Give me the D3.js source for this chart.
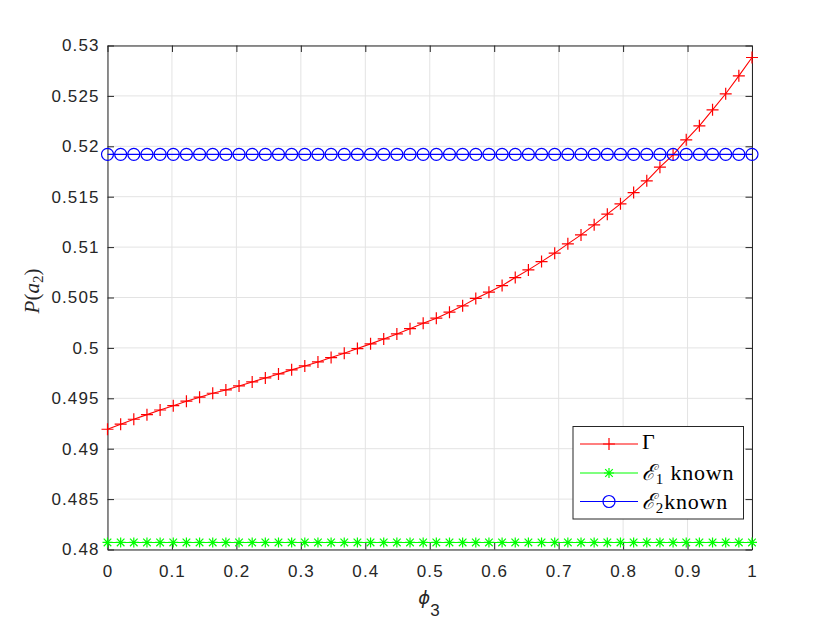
<!DOCTYPE html>
<html><head><meta charset="utf-8">
<script src="https://cdn.jsdelivr.net/npm/d3@7"></script>
<style>body{margin:0;background:#fff}svg{display:block}</style>
</head><body>
<svg id="c" width="830" height="623"></svg>
<script>
// ---- data ----
const nPoints = 50; // phi3 sampled with 50 equally spaced points from 0 to 1
const phi3 = d3.range(nPoints).map(i => i / (nPoints - 1));
const gammaValues = [
 0.49193,0.49243,0.49292,0.49338,0.49384,0.49427,0.49471,0.49511,0.49550,0.49583,
 0.49623,0.49662,0.49702,0.49742,0.49782,0.49821,0.49861,0.49904,0.49947,0.49993,
 0.50040,0.50089,0.50139,0.50191,0.50245,0.50295,0.50354,0.50417,0.50491,0.50553,
 0.50618,0.50698,0.50774,0.50856,0.50940,0.51032,0.51121,0.51221,0.51327,0.51429,
 0.51541,0.51657,0.51793,0.51915,0.52064,0.52203,0.52362,0.52521,0.52699,0.52881];
const e1Value = 0.4807;
const e2Value = 0.5192;
const e1Values = phi3.map(() => e1Value);
const e2Values = phi3.map(() => e2Value);
const xTicks = [0,0.1,0.2,0.3,0.4,0.5,0.6,0.7,0.8,0.9,1];
const xTickLabels = ["0","0.1","0.2","0.3","0.4","0.5","0.6","0.7","0.8","0.9","1"];
const yTicks = [0.48,0.485,0.49,0.495,0.5,0.505,0.51,0.515,0.52,0.525,0.53];
const yTickLabels = ["0.48","0.485","0.49","0.495","0.5","0.505","0.51","0.515","0.52","0.525","0.53"];

// ---- layout ----
const L = 107.5, R = 752, T = 45.5, B = 549.5;
const svg = d3.select("#c");
const x = d3.scaleLinear().domain([0,1]).range([L,R]);
const y = d3.scaleLinear().domain([0.48,0.53]).range([B,T]);
const axisCol = "#262626", gridCol = "#e3e3e3";
const sans = "'Liberation Sans', Arial, Helvetica, sans-serif";
const serif = "'Liberation Serif', 'DejaVu Serif', serif";

// grid
const g = svg.append("g");
g.selectAll(".vx").data(xTicks).join("line")
  .attr("x1", d=>x(d)).attr("x2", d=>x(d)).attr("y1", T).attr("y2", B)
  .attr("stroke", gridCol).attr("stroke-width", 1);
g.selectAll(".hy").data(yTicks).join("line")
  .attr("y1", d=>y(d)).attr("y2", d=>y(d)).attr("x1", L).attr("x2", R)
  .attr("stroke", gridCol).attr("stroke-width", 1);

// axes (MATLAB style: inward ticks, boxed)
const tl = 6.5;
const axB = d3.axisBottom(x).tickValues(xTicks).tickFormat((d,i)=>xTickLabels[i]).tickSizeInner(-tl).tickSizeOuter(0).tickPadding(15);
const axT = d3.axisTop(x).tickValues(xTicks).tickFormat("").tickSizeInner(-tl).tickSizeOuter(0);
const axL = d3.axisLeft(y).tickValues(yTicks).tickFormat((d,i)=>yTickLabels[i]).tickSizeInner(-tl).tickSizeOuter(0).tickPadding(8);
const axR = d3.axisRight(y).tickValues(yTicks).tickFormat("").tickSizeInner(-tl).tickSizeOuter(0);
function style(sel){
  sel.attr("font-size", null).attr("font-family", null);
  sel.selectAll("path").attr("stroke", axisCol);
  sel.selectAll("line").attr("stroke", axisCol);
  sel.selectAll("text").attr("fill", axisCol)
    .attr("font-family", sans).attr("font-size", 17).attr("letter-spacing", 1.1);
}
svg.append("g").attr("transform",`translate(0,${B})`).call(axB).call(style);
svg.append("g").attr("transform",`translate(0,${T})`).call(axT).call(style);
svg.append("g").attr("transform",`translate(${L},0)`).call(axL).call(style);
svg.append("g").attr("transform",`translate(${R},0)`).call(axR).call(style);

// series
const series = [
  {name:"gamma", vals:gammaValues, color:"#ff0000", marker:"plus"},
  {name:"e1", vals:e1Values, color:"#00ff00", marker:"star"},
  {name:"e2", vals:e2Values, color:"#0000ff", marker:"circle"}
];
const line = d3.line().x((d,i)=>x(phi3[i])).y(d=>y(d));
function drawMarker(sel, type, color){
  if(type==="plus"){
    sel.append("path").attr("d","M-6,0H6M0,-6V6").attr("stroke",color).attr("stroke-width",1.2).attr("fill","none");
  } else if(type==="star"){
    sel.append("path").attr("d","M-5,0H5M0,-5V5M-3.8,-3.8L3.8,3.8M-3.8,3.8L3.8,-3.8").attr("stroke",color).attr("stroke-width",1.2).attr("fill","none");
  } else {
    sel.append("circle").attr("r",6).attr("stroke",color).attr("stroke-width",1.2).attr("fill","none");
  }
}
const plot = svg.append("g");
series.forEach(s=>{
  plot.append("path").datum(s.vals).attr("d", line).attr("fill","none").attr("stroke", s.color).attr("stroke-width",1.1);
  plot.selectAll(null).data(s.vals).join("g")
    .attr("transform",(d,i)=>`translate(${x(phi3[i])},${y(d)})`)
    .each(function(){ drawMarker(d3.select(this), s.marker, s.color); });
});

// axis labels
svg.append("text").attr("x", 429).attr("y", 604)
  .attr("text-anchor","middle").attr("fill", axisCol)
  .html(`<tspan style="font-family:'DejaVu Sans',sans-serif;font-style:italic;font-size:18px">ϕ</tspan><tspan dy="12" style="font-family:${sans};font-size:17px">3</tspan>`);
svg.append("text").attr("transform",`translate(39,291) rotate(-90)`)
  .attr("text-anchor","middle").attr("fill", axisCol)
  .html(`<tspan style="font-family:${serif};font-style:italic;font-size:21px">P</tspan><tspan style="font-family:${serif};font-size:21px">(</tspan><tspan style="font-family:${serif};font-style:italic;font-size:21px">a</tspan><tspan dy="4" style="font-family:${serif};font-size:15px">2</tspan><tspan dy="-4" style="font-family:${serif};font-size:21px">)</tspan>`);

// legend
const lg = svg.append("g");
lg.append("rect").attr("x",573).attr("y",426.5).attr("width",170.5).attr("height",92.5)
  .attr("fill","#fff").attr("stroke","#262626").attr("stroke-width",1);
const legendItems = [
  {s:series[0], y:444, base:448.5, html:`<tspan>Γ</tspan>`},
  {s:series[1], y:473, base:479.5, html:`<tspan font-style="italic">ℰ</tspan><tspan dy="4" font-size="15">1</tspan><tspan dy="-4"> known</tspan>`},
  {s:series[2], y:501.5, base:508.5, html:`<tspan font-style="italic">ℰ</tspan><tspan dy="4" font-size="15">2</tspan><tspan dy="-4">known</tspan>`}
];
legendItems.forEach(it=>{
  lg.append("line").attr("x1",580).attr("x2",638).attr("y1",it.y).attr("y2",it.y).attr("stroke",it.s.color).attr("stroke-width",1.1);
  const m = lg.append("g").attr("transform",`translate(609,${it.y})`);
  drawMarker(m, it.s.marker, it.s.color);
  lg.append("text").attr("x",642).attr("y",it.base).attr("fill","#000")
    .attr("font-family", serif).attr("font-size", 22).attr("letter-spacing", 0.8).html(it.html);
});
</script>
</body></html>
